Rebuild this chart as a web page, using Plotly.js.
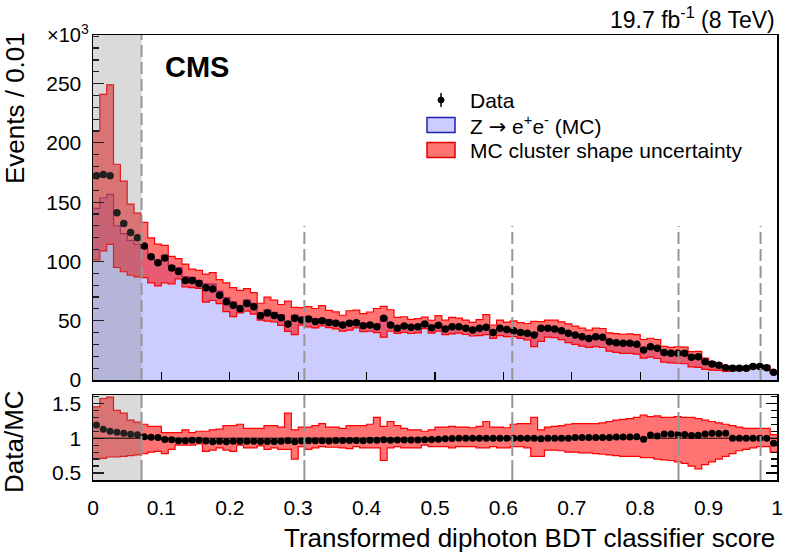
<!DOCTYPE html>
<html><head><meta charset="utf-8">
<script src="https://cdn.plot.ly/plotly-3.0.1.min.js"></script>
<style>body{margin:0;padding:0;background:#fff}#plot{width:786px;height:557px}</style>
</head><body><div id="plot"></div>
<script>
const binWidth = 0.01;
// Data events per bin (x10^3)
const dataEvents = [172.3,173.4,172.3,141,132,124.5,120,113,104,99,
103,94.5,91.5,84,84,81.5,77.8,76.8,71.5,66,
63,60.2,64.6,61.8,54.2,56.5,54.5,52.5,47.2,52,
50.6,51.4,49.3,50,48.6,47.8,46.4,47.8,48.3,45.8,
46.4,45,52,46.4,43.6,45.6,44.5,45,47.2,44.1,
46.1,43.1,45,45,43.6,42.2,43.6,44.5,40,43.6,
42.5,41.5,40,39.4,38,43.6,43.6,43.1,41.6,39.4,
38,36.5,35.1,36.5,36,32.3,31.5,30.9,30.9,30.1,
25.3,28.1,26.7,23.1,22.5,22.5,22.5,19.1,19.7,15.5,
13.5,12.4,10.4,9.9,9.9,9.9,11.3,11.3,10.4,6.5];
// Z->ee MC per bin (x10^3)
const mcEvents = [144.8,153.5,156.6,130,123.4,117.8,114.5,110.8,102.5,98,
105.1,96.6,94.8,87.3,86.6,84,81.2,80.8,74.9,69.5,
66,63,67.6,64.7,56.8,59.2,57.1,54.9,48.9,54.7,
52.7,53.3,51.1,51.9,50.7,49.5,47.9,49.5,49.9,47.5,
47.8,46.4,53.1,47.8,44.7,46.8,45.6,46.2,48.2,45,
46.8,43.5,45.2,45,43.6,42.2,43.6,44.5,40,43.6,
42.5,41.5,40,39.4,38,44,43.6,43.1,41.6,39.4,
37.6,36.1,34.8,36.1,35.6,32,31,30.4,30.4,29.5,
25.7,26.9,25.9,21.8,21.2,21.4,21.4,18.4,18.9,14.6,
12.6,11.6,9.7,9.9,9.9,9.9,11.3,11.3,10.4,7];
// MC cluster shape uncertainty, upper / lower edge relative to MC
const uncHiRel = [1.45,1.57,1.59,1.40,1.36,1.26,1.23,1.20,1.17,1.17,
1.08,1.08,1.08,1.12,1.08,1.10,1.10,1.12,1.13,1.18,
1.18,1.20,1.14,1.14,1.14,1.18,1.18,1.16,1.36,1.12,
1.16,1.16,1.18,1.21,1.16,1.16,1.14,1.18,1.18,1.18,
1.20,1.30,1.17,1.24,1.18,1.14,1.12,1.12,1.10,1.12,
1.16,1.16,1.17,1.16,1.16,1.15,1.17,1.24,1.16,1.16,
1.15,1.20,1.21,1.21,1.30,1.12,1.16,1.17,1.18,1.20,
1.21,1.21,1.21,1.21,1.22,1.24,1.26,1.27,1.28,1.30,
1.33,1.31,1.32,1.30,1.30,1.31,1.30,1.30,1.28,1.26,
1.24,1.22,1.20,1.18,1.16,1.14,1.14,1.14,1.14,1.05];
const uncLoRel = [0.70,0.71,0.73,0.73,0.74,0.75,0.76,0.78,0.80,0.81,
0.78,0.84,0.90,0.90,0.90,0.92,0.81,0.83,0.86,0.83,
0.81,0.90,0.86,0.86,0.89,0.84,0.86,0.84,0.84,0.70,
0.88,0.84,0.86,0.88,0.87,0.87,0.86,0.85,0.88,0.86,
0.86,0.86,0.68,0.86,0.88,0.86,0.86,0.86,0.90,0.88,
0.88,0.88,0.86,0.88,0.88,0.88,0.86,0.86,0.88,0.86,
0.86,0.88,0.88,0.86,0.74,0.74,0.83,0.83,0.82,0.80,
0.80,0.79,0.79,0.78,0.77,0.76,0.75,0.74,0.74,0.74,
0.72,0.72,0.70,0.69,0.68,0.66,0.64,0.60,0.56,0.62,
0.66,0.70,0.74,0.78,0.82,0.84,0.86,0.88,0.88,0.80];
const categoryBoundaries = [0.071, 0.309, 0.613, 0.856, 0.976];
const catLineTop = 130;
const xTickVals = [0,0.1,0.2,0.3,0.4,0.5,0.6,0.7,0.8,0.9,1];
const xTickText = ['0','0.1','0.2','0.3','0.4','0.5','0.6','0.7','0.8','0.9','1'];

const n = dataEvents.length;
const edges = Array.from({length:n+1}, (_, i) => +(i*binWidth).toFixed(3));
const centers = Array.from({length:n}, (_, i) => (i+0.5)*binWidth);
const step = a => a.concat([a[a.length-1]]);
const bandHi = mcEvents.map((m,i) => m*uncHiRel[i]);
const bandLo = mcEvents.map((m,i) => m*uncLoRel[i]);
const ratio = dataEvents.map((d,i) => d/mcEvents[i]);

const RED_FILL = 'rgba(255,0,0,0.55)';
const BLUE_FILL = 'rgb(204,204,255)';
const traces = [
  {x: edges, y: step(mcEvents), xaxis:'x', yaxis:'y', mode:'lines', line:{shape:'hv', color:'#4848c8', width:1.2}, fill:'tozeroy', fillcolor:BLUE_FILL, hoverinfo:'skip'},
  {x: edges, y: step(bandLo), xaxis:'x', yaxis:'y', mode:'lines', line:{shape:'hv', color:'#ff0000', width:1.2}, hoverinfo:'skip'},
  {x: edges, y: step(bandHi), xaxis:'x', yaxis:'y', mode:'lines', line:{shape:'hv', color:'#ff0000', width:1.2}, fill:'tonexty', fillcolor:RED_FILL, hoverinfo:'skip'},
  {x: centers, y: dataEvents, xaxis:'x', yaxis:'y', mode:'markers', marker:{color:'black', size:7.5}},
  {x: edges, y: step(uncLoRel), xaxis:'x2', yaxis:'y2', mode:'lines', line:{shape:'hv', color:'#ff0000', width:1.2}, hoverinfo:'skip'},
  {x: edges, y: step(uncHiRel), xaxis:'x2', yaxis:'y2', mode:'lines', line:{shape:'hv', color:'#ff0000', width:1.2}, fill:'tonexty', fillcolor:RED_FILL, hoverinfo:'skip'},
  {x: centers, y: ratio, xaxis:'x2', yaxis:'y2', mode:'markers', marker:{color:'black', size:7}}
];

// pixel -> paper helpers (plot area: x 93..777, y 35..480)
const PX = px => (px-93)/684;
const PY = py => (480-py)/445;

const shapes = [
  {type:'rect', xref:'x', yref:'y domain', x0:0, x1:categoryBoundaries[0], y0:0, y1:1, fillcolor:'rgba(120,120,120,0.27)', line:{width:0}, layer:'above'},
  {type:'rect', xref:'x2', yref:'y2 domain', x0:0, x1:categoryBoundaries[0], y0:0, y1:1, fillcolor:'rgba(120,120,120,0.27)', line:{width:0}, layer:'above'},
  {type:'line', xref:'x2', yref:'y2', x0:0, x1:1, y0:1, y1:1, line:{color:'black', width:1}, layer:'above'}
];
categoryBoundaries.forEach((b, i) => {
  shapes.push({type:'line', xref:'x', yref: i===0 ? 'y domain' : 'y', x0:b, x1:b, y0:0, y1: i===0 ? 1 : catLineTop,
    line:{color:'rgb(150,150,150)', width:2, dash:'12px,5px'}, layer:'above'});
  shapes.push({type:'line', xref:'x2', yref:'y2 domain', x0:b, x1:b, y0:0, y1:1,
    line:{color:'rgb(150,150,150)', width:2, dash:'20px,4px'}, layer:'above'});
});

// legend
const LD = 100, LZ = 125, LM = 150;
shapes.push({type:'line', xref:'paper', yref:'paper', x0:PX(441), x1:PX(441), y0:PY(LD-7), y1:PY(LD+7), line:{color:'black', width:1.5}});
shapes.push({type:'circle', xref:'paper', yref:'paper', x0:PX(438), x1:PX(444), y0:PY(LD-3), y1:PY(LD+3), fillcolor:'black', line:{color:'black', width:1}});
shapes.push({type:'rect', xref:'paper', yref:'paper', x0:PX(427), x1:PX(455), y0:PY(LZ+7.5), y1:PY(LZ-7.5), fillcolor:BLUE_FILL, line:{color:'#2020b0', width:1.5}});
shapes.push({type:'rect', xref:'paper', yref:'paper', x0:PX(427), x1:PX(455), y0:PY(LM+7.5), y1:PY(LM-7.5), fillcolor:'rgb(255,115,115)', line:{color:'#e00000', width:1.5}});

const FONT = 'Liberation Sans, Arial, Helvetica, sans-serif';
const ann = (text, px, py, opts) => Object.assign({text, xref:'paper', yref:'paper', x:PX(px), y:PY(py), showarrow:false, font:{family:FONT, size:21, color:'black'}, xanchor:'left', yanchor:'middle'}, opts||{});
const annotations = [
  ann('Data', 468, LD),
  ann('Z <span style="font-family:DejaVu Sans">\u2192</span> e<sup>+</sup>e<sup>-</sup> (MC)', 468, LZ),
  ann('MC cluster shape uncertainty', 468, LM),
  ann('<b>CMS</b>', 163, 67, {font:{family:FONT, size:29, color:'black'}}),
  ann('19.7 fb<sup>-1</sup> (8 TeV)', 777, 18, {xanchor:'right', font:{family:FONT, size:23, color:'black'}}),
  ann('\u00d710<sup>3</sup>', 91, 34, {xanchor:'right', font:{family:FONT, size:20, color:'black'}}),
  ann('Events / 0.01', 15, 108, {xanchor:'center', textangle:-90, font:{family:FONT, size:26, color:'black'}}),
  ann('Data/MC', 14, 442, {xanchor:'center', textangle:-90, font:{family:FONT, size:26, color:'black'}}),
  ann('Transformed diphoton BDT classifier score', 777, 538, {xanchor:'right', font:{family:FONT, size:26, color:'black'}})
];

const axBase = {showgrid:false, zeroline:false, showline:true, linecolor:'black', linewidth:1.5, tickcolor:'black', tickwidth:1.2, tickfont:{family:FONT, size:21, color:'black'}};
const layout = {
  width:786, height:557,
  margin:{l:93, r:9, t:35, b:77, pad:0},
  paper_bgcolor:'white', plot_bgcolor:'white',
  showlegend:false,
  font:{family:FONT, color:'black'},
  xaxis: Object.assign({}, axBase, {domain:[0,1], range:[0,1], anchor:'y', showticklabels:false, ticks:'inside', ticklen:8, tickvals:xTickVals, mirror:true}),
  yaxis: Object.assign({}, axBase, {domain:[0.2247,1], range:[0,291], anchor:'x', ticks:'inside', ticklen:11, tick0:0, dtick:50, mirror:true,
    minor:{dtick:10, ticks:'inside', ticklen:6, tickcolor:'black', showgrid:false}, ticklabelstandoff:6}),
  xaxis2: Object.assign({}, axBase, {domain:[0,1], range:[0,1], anchor:'y2', ticks:'', tickvals:xTickVals, ticktext:xTickText, mirror:true, ticklabelstandoff:8}),
  xaxis3: Object.assign({}, axBase, {overlaying:'x2', anchor:'y2', side:'top', range:[0,1], ticks:'inside', ticklen:8, tickvals:xTickVals, showticklabels:false, showline:false}),
  yaxis2: Object.assign({}, axBase, {domain:[0,0.191], range:[0.4,1.62], anchor:'x2', ticks:'inside', ticklen:11, tick0:0.5, dtick:0.5, mirror:'ticks',
    minor:{dtick:0.1, ticks:'inside', ticklen:6, tickcolor:'black', showgrid:false}, ticklabelstandoff:6}),
  shapes, annotations
};
Plotly.newPlot('plot', traces, layout, {staticPlot:true, displayModeBar:false});
</script></body></html>
